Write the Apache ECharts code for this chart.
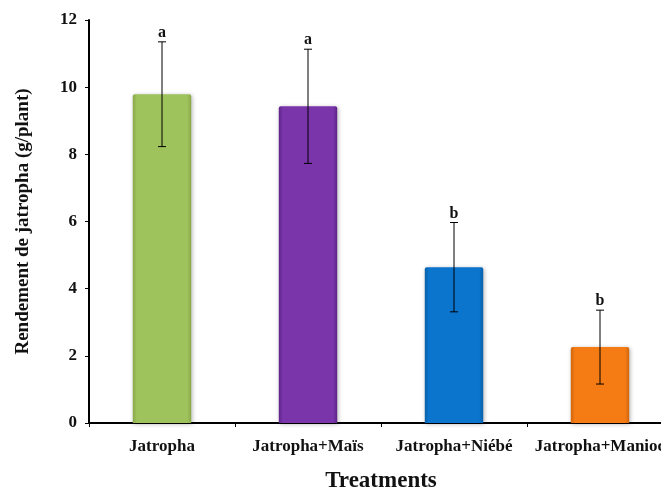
<!DOCTYPE html>
<html lang="en">
<head>
    <meta charset="utf-8">
    <title>Rendement de jatropha</title>
    <script src="https://cdn.jsdelivr.net/npm/echarts@6.0.0/dist/echarts.min.js"></script>
    <style>
        html, body { margin: 0; padding: 0; background: #fff; }
        #chart { width: 661px; height: 490px; }
    </style>
</head>
<body>
    <div id="chart"></div>
    <script>
        // Data
        const treatments = ['Jatropha', 'Jatropha+Maïs', 'Jatropha+Niébé', 'Jatropha+Manioc'];
        const yieldMean = [9.79, 9.43, 4.64, 2.26];
        const yieldErr = [1.56, 1.70, 1.33, 1.10];
        const letters = ['a', 'a', 'b', 'b'];
        const barColors = [
            ['#8aa84a', '#9fc35c'],
            ['#5e2488', '#7a35aa'],
            ['#0860a8', '#0b74cc'],
            ['#d0650c', '#f57b14']
        ];

        const serif = '"Liberation Serif", "DejaVu Serif", serif';
        const chart = echarts.init(document.getElementById('chart'));

        // bevel-like horizontal gradient
        function bevel(c) {
            return {
                type: 'linear', x: 0, y: 0, x2: 1, y2: 0,
                colorStops: [
                    { offset: 0, color: c[0] },
                    { offset: 0.07, color: c[1] },
                    { offset: 0.93, color: c[1] },
                    { offset: 1, color: c[0] }
                ]
            };
        }

        const barData = yieldMean.map((v, i) => ({
            value: v,
            itemStyle: { color: bevel(barColors[i]) }
        }));

        const errData = yieldMean.map((v, i) => [i, v - yieldErr[i], v + yieldErr[i], letters[i]]);

        chart.setOption({
            animation: false,
            // the plot runs a little past the right edge, as in the source figure
            grid: { left: 89, top: 20, width: 584, height: 403, outerBoundsMode: 'none', containLabel: false },
            xAxis: {
                type: 'category',
                data: treatments,
                name: 'Treatments',
                nameLocation: 'middle',
                nameGap: 47,
                nameTextStyle: { fontFamily: serif, fontWeight: 'bold', fontSize: 23, color: '#111' },
                axisLine: { lineStyle: { color: '#000', width: 2 } },
                axisTick: { show: true, length: 4, lineStyle: { color: '#000' } },
                axisLabel: { interval: 0, hideOverlap: false, fontFamily: serif, fontWeight: 'bold', fontSize: 17, color: '#111', margin: 15 }
            },
            yAxis: {
                type: 'value',
                min: 0,
                max: 12,
                interval: 2,
                name: 'Rendement de jatropha (g/plant)',
                nameLocation: 'middle',
                nameGap: 56,
                nameTextStyle: { fontFamily: serif, fontWeight: 'bold', fontSize: 19, color: '#111' },
                axisLine: { show: true, lineStyle: { color: '#000', width: 2 } },
                axisTick: { show: true, length: 4, lineStyle: { color: '#000' } },
                axisLabel: { fontFamily: serif, fontWeight: 'bold', fontSize: 17, color: '#111', margin: 12 },
                splitLine: { show: false }
            },
            series: [
                {
                    type: 'bar',
                    data: barData,
                    barWidth: '40%',
                    itemStyle: {
                        borderRadius: [2, 2, 0, 0],
                        shadowColor: 'rgba(0,0,0,0.3)',
                        shadowBlur: 4,
                        shadowOffsetX: 1,
                        shadowOffsetY: 1
                    }
                },
                {
                    type: 'custom',
                    data: errData,
                    z: 10,
                    renderItem: function (params, api) {
                        const x = api.value(0);
                        const lo = api.coord([x, api.value(1)]);
                        const hi = api.coord([x, api.value(2)]);
                        const cap = 4;
                        const style = { stroke: '#000', lineWidth: 1 };
                        return {
                            type: 'group',
                            children: [
                                { type: 'line', shape: { x1: hi[0], y1: hi[1], x2: lo[0], y2: lo[1] }, style: style },
                                { type: 'line', shape: { x1: hi[0] - cap, y1: hi[1], x2: hi[0] + cap, y2: hi[1] }, style: style },
                                { type: 'line', shape: { x1: lo[0] - cap, y1: lo[1], x2: lo[0] + cap, y2: lo[1] }, style: style },
                                {
                                    type: 'text',
                                    x: hi[0],
                                    y: hi[1] - 1,
                                    style: {
                                        text: api.value(3),
                                        textAlign: 'center',
                                        textVerticalAlign: 'bottom',
                                        font: 'bold 16px ' + serif,
                                        fill: '#111'
                                    }
                                }
                            ]
                        };
                    }
                }
            ]
        });
    </script>
</body>
</html>
